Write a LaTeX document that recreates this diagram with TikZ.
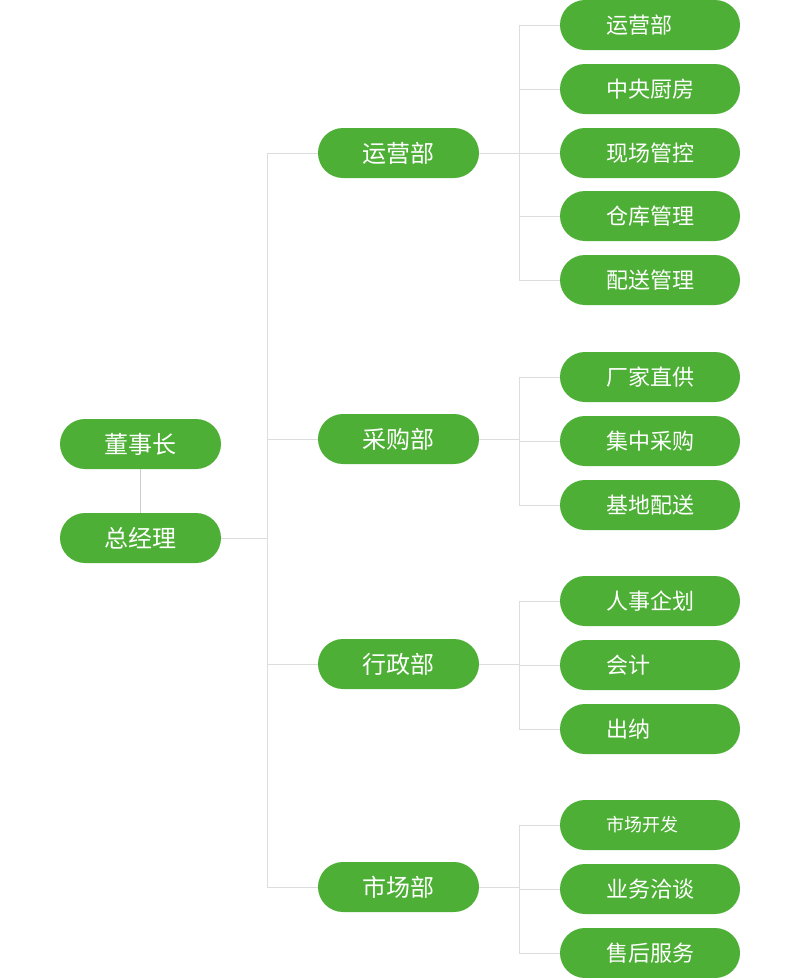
\documentclass[tikz,border=0pt]{standalone}
\usepackage{fontspec}
\setmainfont{Noto Sans CJK SC}
\definecolor{boxgreen}{HTML}{4DAF35}
\definecolor{linegray}{HTML}{DDDDDD}
\definecolor{linedark}{HTML}{CCCCCC}
\tikzset{
  pill/.style={fill=boxgreen, text=white, rounded corners=25pt, minimum height=50pt, inner sep=0pt},
  topbox/.style={pill, minimum width=161pt, font=\fontsize{24pt}{28pt}\selectfont},
  leafbox/.style={pill, text width=180pt, align=left, font=\fontsize{22pt}{26pt}\selectfont, execute at begin node={\hspace*{46pt}}},
  smallleaf/.style={leafbox, font=\fontsize{18pt}{22pt}\selectfont},
  conn/.style={draw=linegray, line width=1pt},
}
\begin{document}
\begin{tikzpicture}[x=1pt,y=-1pt]
\useasboundingbox (0,0) rectangle (800,978);
% left
\node[topbox] (dsz) at (140.5,444) {董事长};
\node[topbox] (zjl) at (140.5,538) {总经理};
% middle
\node[topbox] (m1) at (398.5,153) {运营部};
\node[topbox] (m2) at (398.5,439) {采购部};
\node[topbox] (m3) at (398.5,664) {行政部};
\node[topbox] (m4) at (398.5,887) {市场部};
% right
\node[leafbox] (a1) at (650,25) {运营部};
\node[leafbox] (a2) at (650,89) {中央厨房};
\node[leafbox] (a3) at (650,153) {现场管控};
\node[leafbox] (a4) at (650,216) {仓库管理};
\node[leafbox] (a5) at (650,280) {配送管理};
\node[leafbox] (b1) at (650,377) {厂家直供};
\node[leafbox] (b2) at (650,441) {集中采购};
\node[leafbox] (b3) at (650,505) {基地配送};
\node[leafbox] (c1) at (650,601) {人事企划};
\node[leafbox] (c2) at (650,665) {会计};
\node[leafbox] (c3) at (650,729) {出纳};
\node[smallleaf] (d1) at (650,825) {市场开发};
\node[leafbox] (d2) at (650,889) {业务洽谈};
\node[leafbox] (d3) at (650,953) {售后服务};
% coordinates for trunks
\coordinate (tr) at (267,538);
\coordinate (tt) at (267,153);
\coordinate (tb) at (267,887);
% connectors
\draw[draw=linedark, line width=1pt] (dsz.south) -- (zjl.north);
\draw[conn] (zjl.east) -- (tr);
\draw[conn] (tt) -- (tb);
\foreach \m in {m1,m2,m3,m4} {\draw[conn] (\m.west) -- (\m.west -| tr);}
% branch 1
\draw[conn] (m1.east) -- (m1.east -| 519,0);
\draw[conn] (a1.west -| 519,0) -- (a5.west -| 519,0);
\foreach \c in {a1,a2,a3,a4,a5} {\draw[conn] (\c.west -| 519,0) -- (\c.west);}
% branch 2
\draw[conn] (m2.east) -- (m2.east -| 519,0);
\draw[conn] (b1.west -| 519,0) -- (b3.west -| 519,0);
\foreach \c in {b1,b2,b3} {\draw[conn] (\c.west -| 519,0) -- (\c.west);}
% branch 3
\draw[conn] (m3.east) -- (m3.east -| 519,0);
\draw[conn] (c1.west -| 519,0) -- (c3.west -| 519,0);
\foreach \c in {c1,c2,c3} {\draw[conn] (\c.west -| 519,0) -- (\c.west);}
% branch 4
\draw[conn] (m4.east) -- (m4.east -| 519,0);
\draw[conn] (d1.west -| 519,0) -- (d3.west -| 519,0);
\foreach \c in {d1,d2,d3} {\draw[conn] (\c.west -| 519,0) -- (\c.west);}
\end{tikzpicture}
\end{document}
